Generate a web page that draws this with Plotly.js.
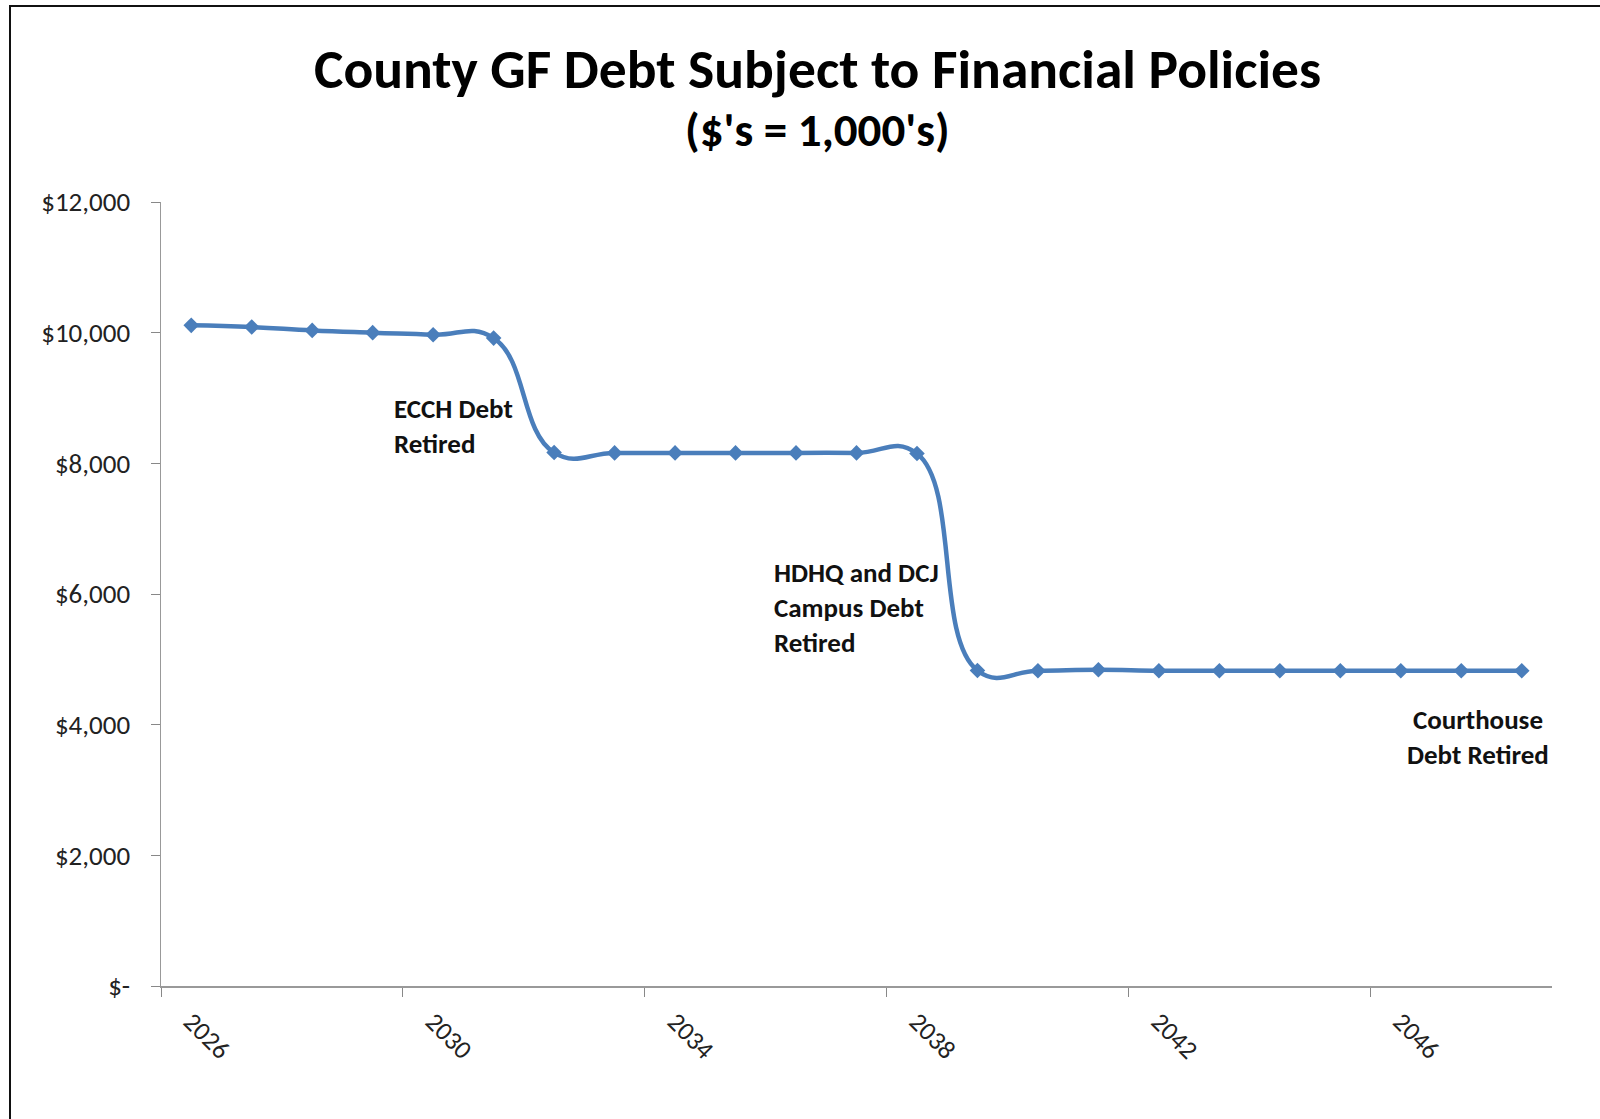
<!DOCTYPE html>
<html>
<head>
<meta charset="utf-8">
<script src="https://cdn.plot.ly/plotly-3.0.1.min.js"></script>
<style>
  html, body { margin: 0; padding: 0; background: #fff; overflow: hidden; }
  #chart { width: 1600px; height: 1119px; }
  #frame { position: absolute; left: 9px; top: 5px; width: 1700px; height: 1300px;
           border-left: 2px solid #111; border-top: 2px solid #111; pointer-events: none; }
</style>
</head>
<body>
<div id="chart"></div>
<div id="frame"></div>
<script>
// ---- data ----
const years = [2026, 2027, 2028, 2029, 2030, 2031, 2032, 2033, 2034, 2035, 2036, 2037,
               2038, 2039, 2040, 2041, 2042, 2043, 2044, 2045, 2046, 2047, 2048];
const debt = [10112, 10086, 10035, 10000, 9969, 9917, 8165, 8160, 8160, 8160, 8160, 8160,
              8150, 4830, 4826, 4840, 4826, 4826, 4826, 4826, 4826, 4826, 4826];
const xTickYears = [2026, 2030, 2034, 2038, 2042, 2046];
const xTickLabels = ["2026", "2030", "2034", "2038", "2042", "2046"];
const xBoundaryTicks = [2025.5, 2029.5, 2033.5, 2037.5, 2041.5, 2045.5];
const yTickVals = [0, 2000, 4000, 6000, 8000, 10000, 12000];
const yTickLabels = ["$-", "$2,000", "$4,000", "$6,000", "$8,000", "$10,000", "$12,000"];
const titleText = "County GF Debt Subject to Financial Policies";
const subtitleText = "($'s = 1,000's)";
const notes = [
  "ECCH Debt<br>Retired",
  "HDHQ and DCJ<br>Campus Debt<br>Retired",
  "Courthouse<br>Debt Retired"
];

const FONT = "Carlito, Calibri, Lato, 'Open Sans', sans-serif";

const trace = {
  x: years,
  y: debt,
  type: "scatter",
  mode: "lines+markers",
  line: {color: "#4A7EBB", width: 4.5, shape: "spline", smoothing: 1.3},
  marker: {symbol: "diamond", size: 12, color: "#4A7EBB"},
  hoverinfo: "x+y",
  showlegend: false
};

const noteFont = {family: FONT, size: 27, color: "#111"};

const layout = {
  width: 1600,
  height: 1119,
  paper_bgcolor: "#fff",
  plot_bgcolor: "#fff",
  margin: {l: 161, r: 48, t: 202, b: 133},
  font: {family: FONT, color: "#222"},
  title: {
    text: "<b>" + titleText + "</b>",
    x: 0.511, xref: "container", xanchor: "center",
    y: 0.9383, yref: "container", yanchor: "middle",
    font: {family: FONT, size: 55.5, color: "#000"}
  },
  xaxis: {
    type: "linear",
    range: [2025.5, 2048.5],
    tickmode: "array",
    tickvals: xTickYears,
    ticktext: xTickLabels,
    tickangle: 45,
    ticks: "",
    ticklabelstandoff: 8,
    tickfont: {family: FONT, size: 26, color: "#222"},
    showgrid: false,
    zeroline: false,
    showline: true,
    linecolor: "#999",
    linewidth: 2,
    minor: {
      tickmode: "array",
      tickvals: xBoundaryTicks,
      ticks: "outside",
      ticklen: 9,
      tickwidth: 1,
      tickcolor: "#888",
      showgrid: false
    },
    fixedrange: true
  },
  yaxis: {
    range: [0, 12000],
    tickmode: "array",
    tickvals: yTickVals,
    ticktext: yTickLabels,
    ticks: "outside",
    ticklen: 9,
    tickwidth: 1,
    tickcolor: "#888",
    ticklabelstandoff: 15,
    tickfont: {family: FONT, size: 27, color: "#222"},
    showgrid: false,
    zeroline: false,
    showline: true,
    linecolor: "#999",
    linewidth: 1.5,
    fixedrange: true
  },
  annotations: [
    {text: "<b>" + subtitleText + "</b>", xref: "paper", yref: "paper", x: 0.4723, y: 1.0918,
     xanchor: "center", yanchor: "middle", showarrow: false,
     font: {family: FONT, size: 47, color: "#000"}},
    {text: "<b>" + notes[0] + "</b>", xref: "paper", yref: "paper", x: 0.166, y: 0.7143,
     xanchor: "left", yanchor: "middle", align: "left", showarrow: false, font: noteFont},
    {text: "<b>" + notes[1] + "</b>", xref: "paper", yref: "paper", x: 0.4396, y: 0.4834,
     xanchor: "left", yanchor: "middle", align: "left", showarrow: false, font: noteFont},
    {text: "<b>" + notes[2] + "</b>", xref: "paper", yref: "paper", x: 0.9465, y: 0.3176,
     xanchor: "center", yanchor: "middle", align: "center", showarrow: false, font: noteFont}
  ]
};

Plotly.newPlot("chart", [trace], layout, {displayModeBar: false, staticPlot: true});
</script>
</body>
</html>
